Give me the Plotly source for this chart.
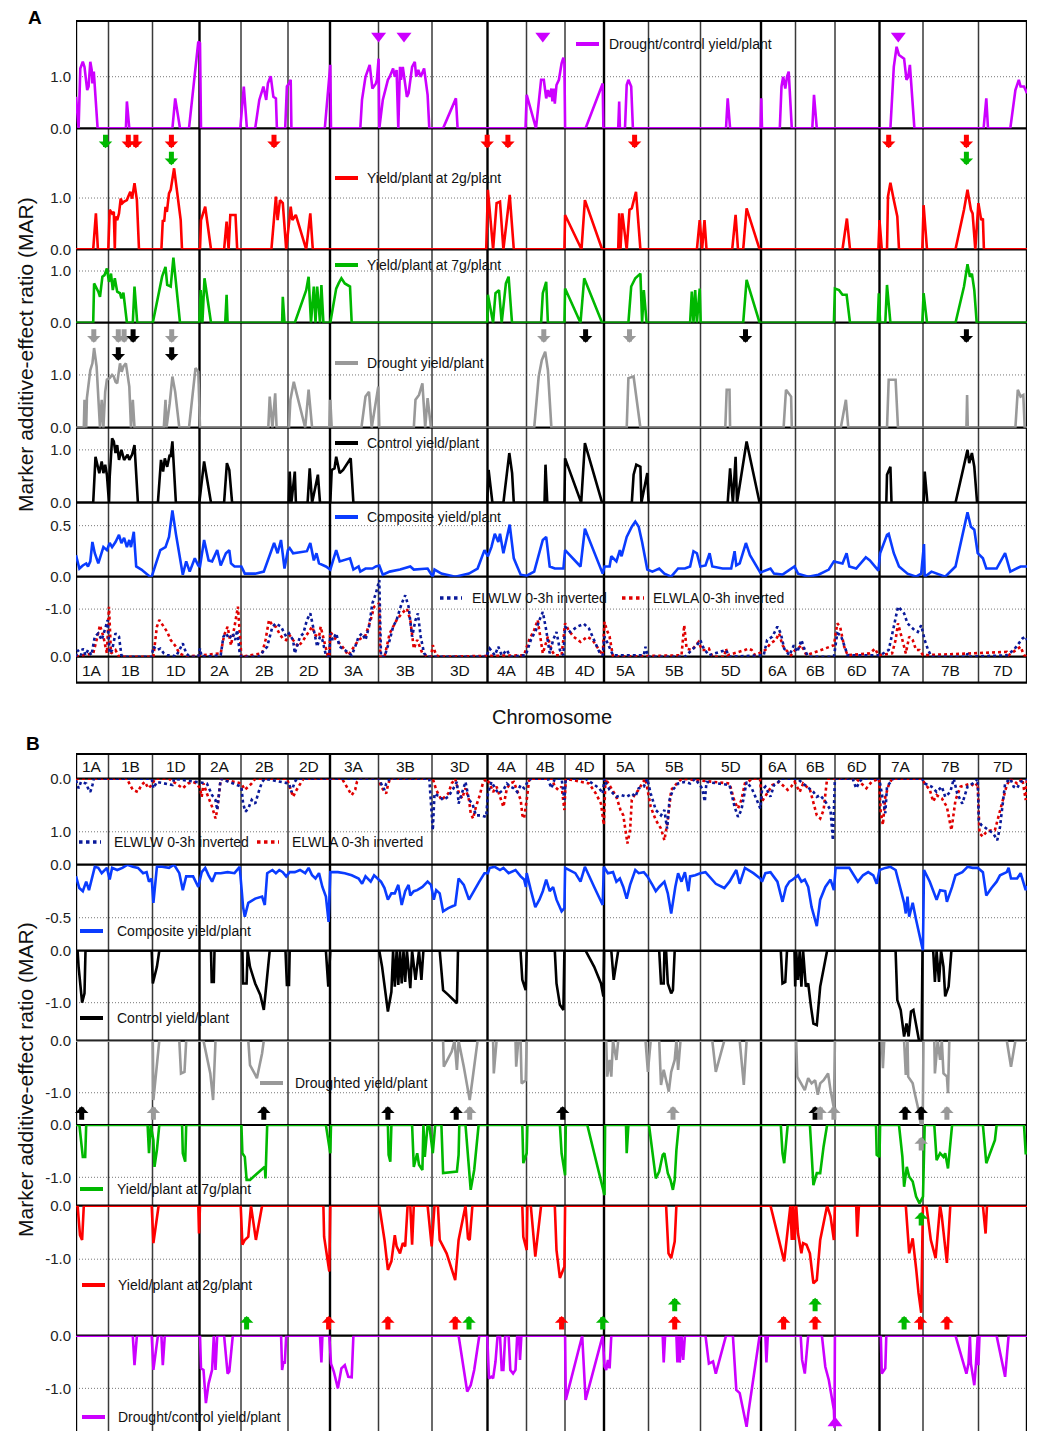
import plotly.graph_objects as go

# ---------------------------------------------------------------- data
CHROMOSOMES = ["1A", "1B", "1D", "2A", "2B", "2D", "3A", "3B", "3D", "4A", "4B",
               "4D", "5A", "5B", "5D", "6A", "6B", "6D", "7A", "7B", "7D"]
CHROM_LENGTH = [32.5, 44, 47, 41.5, 47, 42, 48.5, 53.5, 55.5, 39, 38.5,
                39, 44.5, 52, 60.5, 34.5, 39.5, 44.5, 43.5, 55.5, 48.5]

# Panel A (positive MAR) : (map position, MAR)
A_DROUGHT_CONTROL = [(0,0.61),(2.6,0),(4.3,1.16),(6.8,1.29),(8.5,1.19),(11.2,0.74),(12.6,0.81),(14.3,1.29),(15.7,1.13),(16.4,0.87),(17.8,1.10),(19.2,0.61),(21.6,0),(49.9,0),(50.9,0.52),(53.3,0),(96.4,0),(99.2,0.58),(101.6,0.29),(104,0),(113,0),(119.2,1.19),(122.3,1.68),(124,1.65),(125,0),(164.3,0),(167.8,0.81),(170.9,0),(179.2,0),(183.3,0.55),(187.4,0.81),(190.2,0.55),(191.9,0.87),(194.7,1.01),(197.4,0.61),(199.9,0.58),(200.9,0),(209.2,0),(210.9,0.81),(213,0.87),(214.7,0.94),(215.4,0),(248.8,0),(254.3,1.23),(255,0),(284.3,0),(286,0.55),(289.5,1.0),(293.7,1.23),(296.4,0.77),(299.9,0.87),(300.9,0.94),(302.6,1.35),(303.3,0),(306.8,0.55),(311.9,0.94),(313.7,1.0),(317.1,1.16),(318.8,1.0),(320.6,1.13),(322.3,0),(324,1.19),(325,0.94),(326.8,1.19),(330.9,0.61),(332.6,0.68),(336.1,1.19),(338.8,1.29),(340.2,1.0),(342.3,1.13),(344.7,1.0),(348.1,1.16),(351.6,0.65),(353.3,0),(367.1,0),(379.9,0.58),(381.6,0),(449.5,0),(450.7,0.65),(460,0),(465.1,0.94),(467.8,0.94),(470.2,0.58),(471.9,0.74),(473.7,0.61),(475.4,0.77),(476.4,0.52),(477.8,0.77),(478.8,0.48),(480.5,0.84),(482.9,0.94),(485.6,1.26),(487.4,1.37),(488.4,1.26),(489.1,0),(509.6,0),(526.7,0.87),(527.4,0),(542.2,0),(543.2,0.52),(543.9,0),(549,0),(550.7,0.84),(552.4,0.94),(555.2,0.81),(556.9,0),(650,0),(651.7,0.58),(654.1,0),(684.6,0),(685.3,0.58),(686,0),(703.8,0),(705.5,0.81),(707.2,1.0),(709.3,0.77),(711,1.0),(712.7,1.10),(715.8,0),(736.3,0),(738,0.65),(740.8,0),(814.4,0),(817.8,1.19),(820.6,1.58),(823,1.42),(828.1,1.35),(830.5,0.94),(832.2,1.0),(833.9,1.23),(838.4,0),(907.6,0),(910.3,0.58),(912,0),(934.3,0),(939.4,0.74),(942.8,0.94),(944.6,0.81),(948,0.81),(951,0.68)]

A_YIELD_2G = [(0,0),(17.2,0),(19.9,0.70),(21.9,0),(32.3,0),(33.7,0.77),(36.1,0.70),(37.8,0.73),(38.8,0),(39.5,0.64),(41.2,0.57),(43.0,0.70),(44.7,0.99),(46.4,0.90),(48.1,0.93),(50.9,0.96),(52.3,1.03),(54.3,1.12),(56.1,0.99),(58.5,1.29),(60.9,0.96),(63.0,0),(85.4,0),(86.8,0.57),(88.2,0.54),(89.5,0.83),(90.9,0.73),(93.0,1.09),(94.7,1.16),(98.1,1.58),(104.7,0.57),(106.0,0),(124.0,0),(125.0,0.57),(129.2,0.83),(135.0,0),(148.1,0),(150.6,0.54),(152.6,0),(154.3,0.67),(159.5,0.67),(161.2,0),(195.4,0),(199.9,1.03),(201.6,0.57),(204.0,0.96),(206.8,0.90),(210.2,0),(214.7,0.83),(216.4,0.57),(219.8,0.67),(230.2,0),(234.3,0.70),(236.8,0),(410.2,0),(411.9,1.16),(417.1,0),(420.6,0.90),(424.0,0.93),(427.4,0),(433.7,1.06),(437.8,0),(488.4,0),(489.1,0.67),(505.5,0),(508.9,0.96),(526.1,0),(542.2,0),(543.2,0.70),(544.5,0),(546.3,0.70),(550.7,0),(553.5,0.77),(555.8,0.80),(560.0,1.12),(564.4,0),(620.9,0),(623.7,0.57),(626.1,0),(628.5,0.57),(630.5,0),(656.2,0),(659.6,0.67),(662.0,0),(667.2,0),(670.6,0.80),(683.6,0),(766.5,0),(770.9,0.60),(774.0,0),(802.4,0),(803.5,0.57),(805.8,0),(811.0,0),(812.0,1.03),(814.4,1.30),(817.8,0.96),(821.3,0.64),(823.0,0),(846.3,0),(847.6,0.86),(851.0,0),(879.5,0),(888.0,0.77),(891.5,1.16),(894.9,0.77),(896.6,0.70),(899.3,0),(902.4,0.90),(905.2,0.57),(906.9,0.60),(907.9,0),(951,0)]

A_YIELD_7G = [(0,0),(17.2,0),(18.1,0.76),(22.3,0.60),(24.0,0.50),(26.4,0.89),(28.5,0.92),(30.9,1.05),(33.0,0.79),(35.0,0.95),(36.8,0.63),(38.8,0.86),(41.2,0.60),(44.0,0.57),(45.4,0.47),(47.4,0.58),(50.9,0),(56.8,0),(58.5,0.70),(61.2,0),(76.8,0),(86.1,0.89),(89.5,1.08),(91.2,0.73),(94.7,0.70),(97.4,1.26),(104.0,0),(123.3,0),(124.7,0.63),(126.4,0),(128.5,0.86),(135.0,0),(149.2,0),(150.6,0.54),(151.6,0),(206.1,0),(206.8,0.50),(208.5,0),(218.8,0),(230.2,0.63),(232.6,0.89),(235.0,0),(237.8,0.70),(239.5,0),(241.2,0.70),(244.0,0),(245.4,0.73),(247.4,0),(254.3,0),(260.2,0.66),(262.6,0.76),(265.4,0.86),(268.8,0.76),(274.0,0.70),(275.7,0),(411.2,0),(411.9,0.54),(417.1,0),(419.5,0.57),(423.0,0.63),(425.7,0),(429.9,0.76),(432.6,0.89),(436.0,0),(465.1,0),(466.8,0.57),(470.2,0.79),(471.9,0),(488.4,0),(489.1,0.66),(504.5,0),(508.2,0.86),(526.1,0),(552.4,0),(555.2,0.70),(559.3,0.86),(564.4,0.95),(566.1,0),(567.8,0.63),(570.6,0),(614.1,0),(615.8,0.60),(617.5,0),(619.2,0.63),(620.9,0),(623.7,0.66),(624.7,0),(667.2,0),(670.6,0.83),(683.6,0),(757.9,0),(758.9,0.66),(763.0,0.63),(766.5,0.54),(770.6,0.54),(774.0,0),(801.7,0),(802.8,0.57),(804.1,0),(809.3,0),(811.0,0.73),(814.4,0),(846.3,0),(847.6,0.57),(851.0,0),(879.5,0),(888.0,0.70),(891.5,1.13),(893.9,0.89),(895.9,0.95),(898.3,0.63),(900.7,0),(951,0)]

A_DROUGHT_YIELD = [(0,0),(7.8,0),(8.5,0.53),(10.2,0),(10.9,0.56),(14.3,1.09),(16.4,1.22),(18.1,1.51),(20.6,1.16),(24.0,0),(25.7,0.53),(27.4,0),(29.2,0.68),(30.9,0.91),(33.7,0.94),(36.1,1.0),(37.8,0.97),(39.5,0.87),(41.2,0.84),(44.0,1.22),(45.7,1.06),(47.4,1.16),(49.9,1.22),(53.3,0.78),(55.0,0),(56.8,0.53),(58.5,0),(87.8,0),(89.5,0.53),(90.5,0),(93.7,0.46),(96.4,0.97),(99.2,0.68),(103.3,0),(113.0,0),(117.8,0.91),(119.5,1.13),(122.3,1.06),(124.0,0),(192.3,0),(193.7,0.59),(196.4,0),(199.2,0.65),(200.6,0),(213.0,0),(214.4,0.53),(217.8,0.87),(220.6,0.65),(229.2,0),(232.6,0.72),(236.1,0),(253.3,0),(254.3,0.53),(255.7,0),(285.4,0),(289.5,0.59),(293.0,0.68),(295.7,0),(302.3,0.78),(303.3,0),(337.8,0),(339.5,0.53),(343.0,0.62),(346.4,0.84),(349.2,0),(351.6,0.56),(355.0,0),(458.2,0),(462.7,0.97),(465.8,1.28),(469.2,1.44),(471.9,1.09),(475.4,0),(550.7,0),(552.4,0.94),(557.6,0.97),(564.4,0),(649.3,0),(650.7,0.72),(653.5,0.72),(654.1,0),(707.6,0),(710.0,0.72),(715.1,0.59),(715.8,0),(764.8,0),(769.9,0.53),(772.3,0),(811.0,0),(812.7,0.91),(819.6,0.91),(822.0,0),(890.4,0),(891.1,0.62),(891.8,0),(939.4,0),(941.8,0.72),(944.6,0.59),(947.3,0.62),(948.7,0),(951,0)]

A_CONTROL_YIELD = [(0,0),(17.2,0),(19.5,0.87),(21.2,0.75),(23.3,0.56),(25.7,0.78),(27.4,0.56),(29.2,0.72),(30.9,0.53),(33.0,0),(33.7,0.49),(36.1,1.22),(37.8,1.16),(39.5,0.94),(41.2,1.09),(43.0,0.81),(45.4,1.0),(48.1,0.81),(51.6,0.91),(53.3,0.81),(56.1,0.91),(58.5,1.09),(61.9,0),(81.9,0),(85.0,0.81),(87.1,0.59),(88.8,0.84),(91.2,0.68),(93.7,0.91),(94.7,0.87),(96.4,1.16),(99.9,0),(123.3,0),(128.1,0.78),(135.0,0),(148.1,0),(150.9,0.75),(153.3,0.62),(156.1,0),(212.6,0),(213.7,0.59),(215.4,0),(218.8,0.59),(219.9,0),(231.6,0),(233.7,0.65),(236.1,0),(241.9,0.53),(244.0,0),(254.3,0),(255.7,0.62),(258.5,0.65),(260.2,0.87),(263.7,0.56),(267.1,0.62),(274.7,0.84),(277.4,0),(411.2,0),(412.6,0.62),(416.4,0),(427.4,0),(433.3,0.94),(436.1,0.56),(437.8,0),(468.5,0),(469.5,0.72),(471.3,0),(488.4,0),(489.1,0.84),(505.2,0),(508.9,1.13),(526.1,0),(555.8,0),(557.6,0.53),(560.3,0.72),(564.4,0.68),(565.4,0),(571.3,0.56),(572.6,0),(651.7,0),(654.1,0.65),(656.9,0),(659.6,0.87),(661.0,0),(670.6,1.16),(683.6,0),(810.3,0),(811.0,0.53),(814.4,0.68),(815.5,0),(847.6,0),(848.7,0.59),(851.4,0),(879.5,0),(888.0,0.75),(891.5,1.0),(893.2,0.75),(895.9,0.94),(898.3,0.68),(901.1,0),(951,0)]

A_COMPOSITE = [(0,0.21),(3.4,0.08),(6.8,0.11),(10.2,0.13),(12.0,0.10),(14.3,0.15),(16.4,0.34),(18.8,0.23),(22.3,0.13),(24.7,0.21),(27.4,0.29),(30.9,0.26),(33.7,0.33),(36.1,0.29),(39.5,0.34),(43.0,0.41),(45.4,0.33),(48.1,0.38),(50.9,0.29),(53.3,0.36),(55.0,0.29),(57.8,0.44),(60.2,0.10),(65.4,0.07),(74.0,0.0),(75.7,0.0),(84.3,0.26),(89.5,0.29),(93.0,0.39),(96.4,0.65),(99.9,0.42),(106.8,0.02),(110.2,0.15),(113.7,0.05),(118.8,0.18),(122.3,0.11),(124.0,0.10),(128.1,0.36),(132.6,0.16),(136.1,0.15),(141.2,0.26),(144.7,0.11),(149.9,0.23),(153.3,0.26),(155.0,0.13),(158.5,0.10),(165.4,0.10),(168.8,0.03),(179.2,0.03),(187.8,0.05),(194.7,0.23),(198.1,0.33),(201.6,0.23),(205.0,0.36),(208.5,0.08),(211.9,0.26),(213.7,0.28),(217.1,0.23),(230.9,0.25),(234.3,0.33),(237.8,0.16),(240.5,0.23),(243.0,0.13),(249.9,0.10),(254.3,0.07),(256.8,0.16),(260.2,0.26),(263.7,0.15),(274.0,0.18),(277.4,0.07),(282.6,0.10),(284.3,0.05),(289.5,0.08),(296.4,0.08),(299.9,0.10),(303.3,0.11),(306.8,0.02),(313.7,0.05),(324.0,0.07),(334.3,0.10),(337.8,0.07),(351.6,0.08),(356.8,0.0),(358.5,0.07),(365.4,0.03),(379.2,0.0),(393.0,0.03),(401.6,0.08),(408.5,0.26),(411.9,0.20),(415.4,0.29),(418.8,0.42),(422.3,0.34),(424.0,0.42),(427.4,0.23),(433.7,0.51),(437.8,0.18),(441.2,0.10),(444.7,0.02),(450.7,0.01),(458.2,0.05),(466.8,0.36),(470.2,0.39),(473.7,0.10),(478.8,0.08),(487.4,0.08),(489.1,0.26),(504.5,0.10),(508.9,0.47),(526.7,0.03),(528.5,0.10),(533.6,0.10),(535.3,0.20),(540.4,0.15),(543.9,0.26),(545.6,0.20),(550.7,0.39),(555.8,0.49),(559.3,0.54),(562.7,0.49),(566.1,0.34),(571.3,0.07),(576.4,0.05),(583.2,0.08),(588.4,0.03),(595.2,0.0),(602.1,0.08),(608.9,0.08),(614.1,0.10),(617.5,0.25),(620.9,0.23),(624.3,0.10),(629.5,0.11),(633.6,0.23),(636.3,0.10),(646.6,0.08),(655.2,0.08),(658.6,0.25),(660.3,0.11),(663.7,0.13),(669.9,0.33),(674.0,0.21),(684.3,0.04),(694.5,0.08),(698.0,0.03),(706.5,0.02),(718.5,0.10),(722.0,0.03),(732.2,0.0),(742.5,0.02),(752.8,0.07),(757.9,0.15),(766.5,0.13),(770.6,0.23),(773.3,0.10),(780.2,0.08),(789.8,0.19),(793.9,0.16),(802.4,0.06),(804.1,0.23),(811.0,0.41),(812.7,0.42),(817.8,0.23),(823.0,0.10),(831.5,0.03),(840.1,0.0),(845.2,0.03),(848.0,0.32),(848.7,0.0),(855.5,0.05),(869.2,0.0),(879.5,0.10),(891.5,0.63),(894.9,0.49),(898.3,0.46),(901.7,0.23),(906.9,0.18),(910.3,0.08),(920.6,0.08),(929.1,0.23),(934.3,0.05),(944.6,0.10),(951.0,0.10)]

A_ELWLW = [(0,0),(1.6,-0.14),(5.0,-0.03),(6.8,-0.17),(9.5,-0.03),(12.0,-0.14),(15.4,-0.03),(18.8,-0.42),(22.3,-0.49),(25.7,-0.35),(29.2,-0.59),(31.6,-0.77),(33.7,-0.07),(36.1,-0.14),(39.5,-0.49),(43.0,-0.42),(45.4,-0.03),(48.1,0),(75.7,0),(77.4,-0.21),(80.9,-0.14),(84.3,-0.17),(87.8,-0.07),(91.2,-0.03),(96.4,-0.03),(99.9,0),(106.8,-0.28),(110.2,-0.07),(113.7,0),(122.3,0),(124.0,-0.17),(125.7,0),(144.7,-0.03),(147.4,-0.42),(149.9,-0.49),(153.3,-0.38),(156.8,-0.49),(159.2,-0.35),(161.2,-0.56),(163.7,-0.07),(165.4,0),(182.6,0),(191.2,-0.21),(196.4,-0.63),(199.9,-0.70),(205.0,-0.63),(210.2,-0.42),(213.0,-0.49),(217.1,-0.35),(218.8,-0.07),(224.0,-0.42),(227.4,-0.49),(230.9,-0.77),(234.3,-0.91),(237.8,-0.56),(241.2,-0.21),(244.0,-0.42),(246.4,-0.35),(249.9,-0.03),(253.3,0),(254.3,-0.49),(256.8,-0.35),(260.2,-0.49),(263.7,-0.21),(268.8,-0.14),(275.7,-0.03),(279.2,-0.21),(282.6,-0.42),(286.1,-0.49),(289.5,-0.35),(293.0,-0.63),(296.4,-1.12),(299.9,-1.33),(303.3,-1.61),(305.0,0),(308.5,0),(313.7,-0.35),(317.1,-0.63),(320.6,-0.77),(325.7,-1.12),(329.2,-1.29),(332.6,-1.05),(336.1,-0.42),(339.5,-0.77),(341.9,-0.91),(344.7,-0.42),(348.1,-0.07),(351.6,0),(410.2,0),(413.7,-0.17),(418.8,-0.03),(422.3,-0.21),(425.7,-0.03),(430.9,-0.14),(434.3,0),(449.7,-0.03),(454.8,-0.35),(460.0,-0.56),(463.4,-0.77),(466.8,-0.94),(470.2,-0.56),(473.7,-0.07),(477.1,-0.35),(480.5,-0.52),(483.9,-0.14),(487.4,-0.03),(489.1,-0.63),(494.2,-0.52),(501.1,-0.63),(507.9,-0.69),(513.0,-0.59),(518.2,-0.35),(523.3,-0.10),(526.7,-0.03),(528.5,-0.42),(530.2,-0.35),(533.6,-0.17),(537.0,-0.03),(567.8,-0.03),(569.5,-0.21),(571.9,0),(608.9,0),(615.8,-0.14),(620.9,-0.24),(624.3,-0.35),(627.8,-0.17),(632.9,-0.03),(650.0,-0.14),(653.5,0),(687.7,-0.03),(691.1,-0.35),(696.3,-0.42),(701.4,-0.63),(704.8,-0.49),(708.2,-0.17),(713.4,-0.03),(717.8,-0.24),(721.3,-0.10),(725.4,-0.35),(728.8,-0.14),(732.2,0),(757.9,0),(761.3,-0.49),(764.8,-0.45),(768.2,-0.24),(771.6,-0.03),(804.1,-0.03),(812.7,-0.14),(817.8,-0.63),(822.0,-1.05),(825.4,-0.98),(828.1,-0.91),(831.5,-0.70),(835.0,-0.63),(838.4,-0.56),(841.8,-0.52),(845.2,-0.66),(848.7,-0.35),(852.1,-0.14),(855.5,0),(890.4,0),(891.5,-0.07),(893.2,0),(930.8,-0.03),(937.7,-0.14),(942.8,-0.28),(946.3,-0.38),(949.7,-0.42),(951,-0.35)]

A_ELWLA = [(0,0),(17.2,-0.07),(20.6,-0.35),(24.0,-0.66),(27.4,-0.42),(30.9,-0.07),(33.0,-1.05),(35.0,-0.07),(39.5,-0.14),(43.0,0),(77.4,0),(80.9,-0.63),(83.3,-0.77),(87.8,-0.63),(91.2,-0.52),(94.7,-0.35),(99.9,-0.21),(103.3,-0.07),(110.2,0),(144.7,-0.07),(148.1,-0.45),(151.6,-0.63),(155.0,-0.24),(158.5,-0.63),(161.9,-1.05),(165.4,0),(186.1,-0.07),(189.5,-0.35),(193.0,-0.77),(196.4,-0.66),(199.9,-0.63),(203.3,-0.49),(206.8,-0.38),(210.2,-0.35),(213.7,-0.45),(217.1,-0.35),(222.3,-0.21),(227.4,-0.35),(232.6,-0.52),(236.1,-0.63),(239.5,-0.45),(243.0,-0.42),(244.7,-0.63),(248.1,-0.35),(251.6,-0.03),(253.3,0),(254.3,-0.52),(260.2,-0.35),(265.4,-0.24),(268.8,-0.14),(272.3,-0.03),(282.6,-0.35),(289.5,-0.45),(294.7,-0.77),(298.1,-1.05),(303.3,-1.12),(304.3,0),(308.5,0),(313.7,-0.49),(320.6,-0.77),(325.7,-0.91),(330.9,-1.01),(334.3,-0.77),(337.8,-0.17),(341.2,-0.35),(346.4,-0.07),(351.6,0),(355.0,0),(356.8,-0.24),(360.2,-0.03),(363.7,0),(448.0,-0.03),(453.1,-0.35),(458.2,-0.56),(461.7,-0.77),(466.8,-0.07),(471.9,-0.42),(475.4,-0.14),(478.8,-0.03),(485.6,-0.03),(489.1,-0.70),(492.5,-0.56),(497.6,-0.42),(504.5,-0.31),(511.3,-0.42),(516.5,-0.35),(523.3,-0.14),(526.7,-0.03),(528.5,-0.73),(530.8,-0.56),(533.6,-0.42),(537.0,0),(605.5,-0.03),(608.2,-0.66),(610.6,-0.17),(615.8,-0.14),(622.6,-0.31),(626.1,-0.14),(629.5,-0.14),(632.9,-0.17),(636.3,0),(648.3,0),(650.0,-0.17),(651.7,-0.03),(668.9,-0.14),(672.3,-0.17),(675.7,-0.14),(679.1,-0.03),(689.4,-0.14),(694.5,-0.28),(699.7,-0.35),(703.1,-0.49),(706.5,-0.24),(710.0,-0.14),(715.1,-0.03),(719.2,-0.14),(722.0,-0.17),(725.4,-0.24),(730.5,-0.03),(757.9,-0.24),(761.3,-0.70),(764.1,-0.63),(768.2,-0.21),(771.6,-0.03),(793.9,-0.07),(799.0,-0.17),(802.4,-0.03),(816.1,-0.07),(819.6,-0.35),(822.0,-0.70),(826.4,-0.35),(829.8,-0.07),(833.2,-0.42),(836.7,-0.35),(840.1,-0.14),(843.5,-0.14),(847.0,-0.03),(930.8,-0.10),(932.6,-0.03),(944.6,-0.21),(948.0,-0.03),(951,0)]

# Panel B (negative MAR)
B_ELWLW = [(0,0.03),(2.6,0.18),(5.0,0.06),(10.2,0.09),(12.0,0.18),(14.3,0.25),(16.4,0.12),(17.8,0),(75.7,0),(77.4,0.18),(80.9,0.06),(96.4,0.12),(98.1,0),(124.0,0.06),(130.9,0.09),(136.1,0.31),(139.5,0.40),(141.2,0.59),(144.7,0),(165.4,0.15),(167.1,0.47),(169.5,0.62),(172.3,0.56),(175.7,0.40),(179.2,0.47),(183.3,0.21),(186.1,0.06),(188.8,0),(213.0,0.09),(215.4,0.25),(218.8,0.06),(221,0),(303,0),(305.0,0.09),(308.5,0.21),(310.2,0.09),(313.7,0),(353.3,0),(355.0,0.40),(356.8,0.97),(358.5,0.28),(363.7,0.34),(367.1,0.40),(372.3,0.34),(377.5,0.18),(380.9,0.06),(382.6,0.47),(386.1,0.25),(389.5,0.06),(393.0,0.40),(396.4,0.47),(399.9,0.69),(405.0,0.69),(410.2,0.72),(411.9,0.28),(415.4,0.06),(417.1,0.12),(422.3,0.28),(427.4,0.21),(430.9,0.09),(434.3,0.15),(437.8,0.18),(441.2,0.25),(444.7,0.12),(448.1,0.18),(451.6,0.06),(455,0),(471.9,0),(475.4,0.18),(478.8,0),(485.6,0),(488.4,0.40),(489.8,0),(509.6,0),(516.5,0.09),(523.3,0.18),(526.7,0.28),(528.5,0),(530.2,0.09),(533.6,0.21),(540.4,0.34),(545.6,0.31),(550.7,0.34),(555.8,0.28),(559.3,0.34),(562.7,0.18),(567.8,0.15),(571.3,0),(574.7,0.28),(579.8,0.59),(585.0,0.69),(588.4,0.59),(591.1,0.94),(593.5,0.40),(596.9,0.21),(602.1,0.09),(608.9,0.06),(614.1,0.09),(619.2,0),(626.1,0.18),(628.8,0.43),(630.5,0.06),(653.5,0.12),(658.6,0.53),(662.0,0.72),(665.4,0.59),(670.6,0.06),(675.7,0.18),(680.8,0.40),(684.3,0.56),(686.0,0.21),(689.4,0.15),(694.5,0.34),(698.0,0.12),(701.4,0.09),(704.8,0),(721.3,0),(732.2,0.18),(737.4,0.25),(740.8,0.34),(744.2,0.31),(749.3,0.43),(754.5,0.59),(756.9,1.16),(758.9,0),(776.7,0),(780.2,0.18),(783.6,0.06),(786,0),(802,0),(804.1,0.09),(806.9,0.40),(809.3,0.65),(811.0,0.15),(814.4,0.06),(817,0),(846,0),(848.7,0.09),(855.5,0.15),(860.6,0.25),(865.8,0.15),(869.2,0.34),(874.3,0.25),(877.8,0),(881.2,0.28),(886.3,0.47),(891.5,0.15),(896.6,0.09),(901.7,0),(902.8,0.78),(905.2,0.87),(910.3,0.94),(917.2,1.03),(921.3,1.16),(924.0,0.91),(929.1,0.09),(934.3,0),(937.7,0.15),(941.1,0.18),(944.6,0.06),(951,0)]

B_ELWLA = [(0,0),(51,0),(53.3,0.09),(56.8,0.21),(61.9,0.25),(65.4,0.12),(68.8,0.06),(72.3,0.18),(75.7,0.12),(79.1,0),(92.9,0),(106.8,0.18),(112.0,0.09),(117.1,0.06),(120.6,0.09),(124.0,0.18),(125.7,0.34),(127.5,0.09),(130.9,0.28),(136.1,0.53),(139.5,0.75),(141.2,0.59),(144.7,0),(165.4,0.09),(168.8,0.21),(172.3,0.15),(175.7,0.09),(179.2,0),(211,0),(213.7,0.15),(217.1,0.34),(220.6,0.21),(224.0,0.09),(227.4,0),(266,0),(268.8,0.09),(272.3,0.21),(275.7,0.31),(279.2,0.21),(280.9,0.06),(283,0),(303,0),(305.0,0.15),(308.5,0.25),(310.2,0.28),(311.9,0.12),(314,0),(356.8,0),(360.2,0.21),(365.4,0.40),(372.3,0.28),(375.7,0.09),(379.2,0),(382.6,0.25),(386.1,0.37),(389.5,0.18),(393.0,0.40),(394.7,0.65),(397.1,0.75),(399.9,0.53),(403.3,0.34),(406.8,0.09),(410.2,0),(413.7,0.09),(417.1,0.25),(420.6,0.15),(424.0,0.34),(427.4,0.53),(430.9,0.18),(434.3,0.09),(437.8,0.06),(441.2,0.21),(444.7,0.40),(446.4,0.69),(448.1,0.75),(450.9,0.37),(453.3,0),(476,0),(478.8,0.15),(482.2,0.21),(485.6,0.15),(488.4,0.59),(489.8,0),(513.0,0.09),(519.9,0.28),(525.0,0.47),(527.8,0.87),(529.5,0),(540.4,0.34),(544.5,0.59),(547.3,0.69),(549.0,0.91),(551.4,1.22),(554.1,0.97),(555.8,0.40),(559.3,0.28),(562.7,0.21),(566.1,0.09),(569.5,0),(574.7,0.53),(579.8,0.78),(585.0,0.94),(588.4,1.16),(591.8,0.78),(595.2,0.21),(602.1,0.06),(606,0),(653.5,0.09),(658.6,0.43),(662.0,0.56),(665.4,0.40),(668.9,0.09),(672.3,0.06),(676,0),(684,0),(686.0,0.43),(691.1,0.28),(696.3,0.12),(703.1,0.06),(711.7,0.21),(715.1,0.15),(718.5,0.06),(723.7,0.25),(727.1,0.09),(734.0,0.21),(737.4,0.47),(740.8,0.69),(744.2,0.75),(747.6,0.59),(751.1,0),(780.2,0),(787.0,0.12),(790.4,0.18),(795.6,0.06),(803,0),(804.8,0.65),(806.9,0.87),(809.3,0.34),(812.7,0.12),(816.1,0),(846,0),(848.7,0.09),(853.8,0.21),(857.2,0.43),(860.6,0.31),(865.8,0.37),(870.9,0.53),(875.4,0.97),(879.5,0.40),(884.6,0.15),(889.8,0.12),(894.9,0.09),(898.3,0.15),(901.7,0.09),(903.5,1.03),(906.9,1.09),(910.3,1.0),(915.5,0.97),(918.9,0.97),(924.0,0.59),(927.4,0.34),(930.8,0.12),(934.3,0),(941.1,0.09),(946.3,0),(949.7,0.40),(951,0)]

B_COMPOSITE = [(0,-0.11),(3.3,-0.22),(6.8,-0.25),(10.2,-0.16),(13.0,-0.24),(15.4,-0.14),(18.8,-0.02),(22.3,-0.03),(25.7,-0.08),(30.9,-0.03),(33.7,-0.14),(36.1,-0.03),(41.2,-0.05),(46.4,-0.03),(51.6,0.0),(56.8,-0.02),(62.0,-0.03),(67.1,-0.08),(70.6,-0.07),(73.0,-0.16),(75.7,-0.13),(77.4,-0.36),(80.9,-0.02),(86.1,-0.02),(93.0,-0.03),(98.1,0.0),(103.3,-0.08),(106.8,-0.24),(110.2,-0.11),(117.1,-0.11),(122.3,-0.21),(125.7,-0.07),(129.2,-0.03),(132.6,-0.10),(136.1,-0.16),(139.5,-0.08),(144.7,-0.08),(151.6,-0.07),(158.5,-0.08),(163.7,-0.02),(167.1,-0.40),(168.8,-0.49),(172.3,-0.36),(179.2,-0.32),(186.1,-0.30),(188.8,-0.38),(191.2,-0.08),(196.4,-0.05),(199.9,-0.08),(203.3,-0.05),(206.8,-0.07),(210.2,-0.11),(213.7,-0.07),(218.8,-0.07),(224.0,-0.05),(229.2,-0.08),(232.6,-0.03),(236.1,-0.10),(239.5,-0.13),(243.0,-0.08),(246.4,-0.21),(249.9,-0.30),(252.6,-0.54),(254.3,-0.07),(261.9,-0.07),(268.8,-0.08),(275.7,-0.10),(282.6,-0.13),(286.1,-0.18),(289.5,-0.11),(294.7,-0.16),(298.1,-0.10),(301.6,-0.13),(305.0,-0.16),(308.5,-0.22),(311.9,-0.33),(315.4,-0.27),(318.8,-0.27),(322.3,-0.19),(325.7,-0.38),(329.2,-0.25),(332.6,-0.19),(334.3,-0.29),(337.8,-0.25),(341.2,-0.24),(346.4,-0.21),(351.6,-0.16),(355.0,-0.19),(357.8,-0.33),(360.2,-0.24),(363.7,-0.27),(367.1,-0.44),(372.3,-0.41),(379.2,-0.38),(382.6,-0.13),(387.8,-0.19),(393.0,-0.33),(398.2,-0.24),(403.3,-0.16),(408.5,-0.08),(411.9,-0.08),(413.7,-0.03),(418.8,-0.02),(424.0,-0.05),(427.4,-0.03),(432.6,-0.08),(439.5,-0.05),(444.7,-0.11),(448.1,-0.14),(449.9,-0.21),(450.7,-0.08),(454.8,-0.24),(459.3,-0.40),(463.4,-0.33),(466.8,-0.25),(470.2,-0.14),(473.7,-0.25),(477.1,-0.21),(480.5,-0.33),(485.6,-0.44),(488.4,-0.41),(489.1,-0.03),(499.3,-0.08),(504.5,-0.16),(508.9,-0.02),(518.2,-0.21),(526.7,-0.38),(527.8,-0.02),(531.9,-0.08),(537.0,-0.07),(540.4,-0.16),(543.9,-0.13),(547.3,-0.21),(550.7,-0.32),(554.1,-0.19),(559.3,-0.05),(562.7,-0.08),(567.8,-0.07),(571.3,-0.11),(576.4,-0.19),(579.8,-0.25),(583.2,-0.21),(588.4,-0.16),(591.8,-0.27),(595.2,-0.46),(599.3,-0.21),(602.1,-0.08),(605.5,-0.16),(608.9,-0.07),(612.4,-0.25),(614.1,-0.11),(619.2,-0.10),(624.3,-0.08),(629.5,-0.07),(634.6,-0.13),(639.8,-0.18),(648.3,-0.22),(653.5,-0.16),(660.3,-0.05),(663.7,-0.18),(668.9,-0.03),(677.4,-0.08),(684.3,-0.13),(686.0,-0.16),(689.4,-0.08),(694.5,-0.07),(701.4,-0.16),(706.5,-0.35),(710.0,-0.21),(713.4,-0.16),(716.8,-0.14),(722.0,-0.10),(725.4,-0.16),(728.8,-0.14),(732.2,-0.21),(735.6,-0.40),(739.1,-0.52),(740.8,-0.58),(744.2,-0.33),(749.3,-0.21),(754.5,-0.14),(757.9,-0.24),(759.6,-0.03),(766.5,-0.03),(773.3,-0.03),(781.9,-0.16),(787.0,-0.10),(792.2,-0.07),(797.3,-0.10),(800.7,-0.18),(803.5,-0.05),(809.3,-0.03),(814.4,-0.02),(819.6,-0.05),(824.7,-0.24),(828.1,-0.36),(829.8,-0.46),(831.5,-0.30),(833.2,-0.49),(836.7,-0.36),(840.1,-0.52),(843.5,-0.66),(846.9,-0.81),(848.0,-0.05),(853.8,-0.16),(860.6,-0.33),(864.1,-0.24),(869.2,-0.25),(870.9,-0.35),(876.1,-0.21),(879.5,-0.10),(886.3,-0.07),(891.5,-0.02),(896.6,-0.03),(901.7,-0.03),(906.9,-0.07),(910.3,-0.29),(915.5,-0.22),(920.6,-0.16),(924.0,-0.10),(930.8,-0.07),(932.6,-0.03),(935.0,-0.13),(941.1,-0.13),(944.6,-0.08),(949.7,-0.24),(951,-0.20)]

B_CONTROL_YIELD = [(0,0),(1.6,0),(2.6,-0.31),(5.0,-0.82),(6.1,-1.0),(8.5,-0.82),(9.5,0),(75.7,0),(76.8,-0.63),(80.9,-0.31),(83.3,0),(135.0,0),(135.7,-0.60),(137.8,-0.60),(138.5,0),(166.4,0),(167.1,-0.63),(170.6,-0.63),(171.6,0),(174.0,-0.31),(179.2,-0.63),(184.3,-0.85),(187.8,-1.14),(189.5,-0.82),(193.7,0),(209.5,0),(210.9,-0.66),(213.0,-0.66),(213.7,0),(249.9,0),(252.3,-0.69),(254.3,0),(303.3,0),(306.1,-0.31),(309.5,-0.76),(311.9,-1.17),(315.4,-0.79),(317.1,0),(318.8,-0.69),(320.6,0),(322.3,-0.66),(324.0,0),(325.7,-0.63),(327.5,0),(329.2,-0.60),(330.9,0),(334.3,-0.72),(336.1,0),(339.5,-0.56),(343.0,0),(345.4,-0.56),(347.4,0),(363.7,0),(367.1,-0.76),(372.3,-0.85),(379.2,-0.98),(380.9,-1.01),(382.0,0),(444.5,0),(446.3,-0.56),(449.7,-0.76),(450.7,0),(478.8,0),(480.5,-0.63),(483.9,-1.04),(487.4,-1.14),(488.4,0),(509.6,0),(518.2,-0.31),(525.0,-0.63),(527.4,-0.88),(528.1,0),(535.3,0),(537.7,-0.56),(542.2,0),(583.2,0),(585.0,-0.63),(587.7,-0.63),(588.4,0),(590.1,0),(591.8,-0.63),(595.2,-0.82),(596.9,-0.76),(598.7,0),(704.8,0),(706.5,-0.63),(709.3,-0.60),(711.0,0),(718.5,0),(719.2,-0.69),(720.2,0),(722.0,-0.56),(723.7,0),(725.4,-0.69),(727.1,0),(729.8,-0.69),(732.2,-0.63),(735.0,-1.08),(737.4,-1.40),(740.8,-1.43),(744.2,-0.69),(751.1,0),(819.6,0),(821.3,-0.95),(824.7,-1.14),(828.1,-1.65),(830.5,-1.40),(832.6,-1.65),(835.0,-1.17),(837.4,-1.14),(839.4,-1.37),(841.8,-1.69),(843.5,-1.78),(845.5,-2.0),(846.5,0),(857.2,0),(858.9,-0.60),(860.6,0),(863.0,-0.60),(865.1,0),(867.5,-0.31),(869.2,-0.88),(872.6,-0.69),(875.4,0),(951,0)]

B_DROUGHT_YIELD = [(0,0),(76.8,0),(77.4,-1.14),(80.9,-0.50),(83.3,0),(103.3,0),(105.0,-0.63),(108.5,-0.60),(110.2,0),(127.5,0),(130.9,-0.31),(134.3,-0.63),(137.1,-1.14),(139.5,0),(172.3,0),(174.0,-0.47),(178.5,-0.63),(180.9,-0.72),(186.1,-0.24),(187.8,0),(367.1,0),(367.8,-0.50),(375.7,-0.21),(378.5,0),(380.9,-0.56),(382.6,0),(387.8,-0.50),(393.7,-1.14),(396.4,-0.76),(401.6,0),(417.1,0),(417.8,-0.63),(420.6,0),(439.5,0),(440.2,-0.50),(442.3,0),(444.6,0),(445.6,-0.82),(449.7,-0.76),(450.7,0),(530.2,0),(531.2,-0.69),(533.6,-0.37),(535.3,-0.69),(537.0,0),(540.4,-0.37),(542.2,0),(569.5,0),(571.9,-0.60),(574.7,0),(583.2,0),(585.0,-0.85),(587.7,-0.56),(590.1,-0.76),(592.8,-0.98),(595.2,-0.60),(598.7,-0.37),(600.4,0),(602.1,-0.56),(604.5,0),(636.3,0),(639.8,-0.60),(648.3,0),(663.7,0),(667.8,-0.85),(670.6,0),(720.2,0),(721.3,-0.69),(725.4,-0.82),(728.8,-0.95),(732.2,-0.72),(735.6,-0.82),(739.1,-0.76),(741.8,-1.04),(744.2,-0.82),(747.6,-0.76),(752.1,-0.63),(754.5,-0.95),(757.9,-1.30),(758.9,0),(805.8,0),(806.9,-0.53),(808.2,0),(828.1,0),(829.8,-0.66),(831.5,0),(832.2,-0.69),(836.7,-0.82),(838.4,-0.98),(841.8,-1.27),(845.2,-1.65),(846.5,-2.0),(847.5,0),(858.3,0),(858.9,-0.63),(861.7,0),(864.1,-0.37),(865.8,0),(867.5,-0.63),(870.9,-0.69),(872.0,-1.01),(873.3,0),(930.8,0),(935.0,-0.50),(939.4,0),(951,0)]

B_YIELD_7G = [(0,0),(3.4,0),(5.0,-0.29),(6.8,-0.61),(9.2,-0.61),(10.2,0),(71.6,0),(73.0,-0.54),(74.7,0),(77.4,-0.29),(78.5,-0.80),(80.9,-0.48),(83.3,0),(106.1,0),(106.8,-0.54),(109.2,-0.70),(110.2,0),(165.4,0),(166.4,-0.54),(168.8,-0.61),(170.6,-1.05),(174.0,-1.05),(177.5,-0.99),(188.8,-0.80),(189.5,-1.02),(191.2,0),(249.9,0),(254.3,-0.54),(255.0,0),(311.9,0),(312.6,-0.57),(314.3,-0.70),(315.4,0),(336.1,0),(337.8,-0.80),(341.2,-0.54),(343.0,-0.76),(346.4,-0.86),(347.4,0),(348.8,-0.61),(351.6,0),(353.3,0),(356.8,-0.54),(359.2,0),(365.4,0),(367.1,-0.92),(380.9,-0.89),(382.6,-0.57),(383.3,0),(389.5,0),(394.7,-1.24),(398.2,-0.86),(402.6,0),(446.3,0),(447.3,-0.73),(450.7,-0.54),(451.4,0),(483.9,0),(485.6,-0.54),(489.1,-0.96),(489.8,0),(511.3,0),(518.2,-0.54),(528.5,-1.34),(529.1,0),(550.0,0),(550.7,-0.54),(552.4,0),(573.0,0),(576.4,-0.54),(579.8,-1.02),(583.2,-0.89),(586.7,-0.57),(588.4,-0.54),(591.8,-0.92),(594.5,-1.05),(596.9,-1.24),(598.7,-1.05),(600.4,-0.48),(602.8,0),(704.8,0),(706.5,-0.54),(708.2,-0.73),(711.7,0),(733.9,0),(735.6,-0.54),(737.4,-1.15),(740.8,-0.92),(744.2,-0.92),(747.6,-0.41),(751.1,0),(800.0,0),(800.7,-0.57),(803.5,-0.61),(804.1,0),(823.0,0),(826.4,-0.61),(828.1,-1.18),(830.8,-0.80),(833.2,-0.99),(836.7,-1.08),(840.1,-1.37),(843.5,-1.50),(847.0,-1.37),(848.7,0),(858.3,0),(860.6,-0.67),(864.1,-0.54),(867.5,-0.61),(869.2,-0.54),(872.0,-0.83),(876.1,0),(906.9,0),(910.3,-0.73),(918.9,-0.29),(920.6,0),(948.0,0),(949.7,-0.54),(951,-0.54)]

B_YIELD_2G = [(0,0),(1.6,0),(4.0,-0.55),(6.1,-0.64),(7.8,0),(75.7,0),(77.4,-0.70),(82.6,0),(122.3,0),(123.0,-0.52),(124.0,0),(164.7,0),(166.4,-0.73),(168.8,-0.64),(172.3,-0.58),(175.0,0),(179.9,-0.64),(186.1,0),(247.4,0),(248.1,-0.58),(253.3,-1.23),(254.3,0),(303.3,0),(308.5,-0.64),(311.9,-1.20),(315.4,-1.04),(318.8,-0.55),(320.6,-0.76),(324.0,-0.89),(326.8,-0.70),(329.2,-0.76),(331.6,0),(334.3,0),(336.1,-0.73),(337.8,0),(351.6,0),(355.7,-0.76),(358.5,0),(361.9,0),(363.7,-0.64),(370.6,-0.89),(379.2,-1.39),(382.6,-0.64),(389.5,0),(392.0,-0.61),(393.7,-0.64),(396.4,0),(446.3,0),(447.3,-0.58),(450.7,-0.83),(451.4,0),(454.8,0),(459.3,-0.95),(465.1,0),(478.8,0),(480.5,-0.83),(483.9,-1.35),(488.4,-1.14),(489.1,0),(590.1,0),(592.5,-0.89),(595.2,-0.98),(598.7,-0.67),(600.4,0),(694.5,0),(699.7,-0.39),(704.8,-0.76),(708.2,-1.04),(711.7,-0.45),(714.4,0),(715.8,-0.64),(717.2,0),(718.5,-0.64),(720.2,0),(722.0,-0.52),(725.4,-0.89),(727.1,-0.70),(730.5,-0.73),(733.9,-0.89),(737.4,-1.45),(740.8,-1.39),(744.2,-0.64),(751.1,0),(754.5,-0.20),(757.9,-0.64),(758.9,0),(780.2,0),(781.2,-0.58),(782.9,0),(829.8,0),(833.2,-0.89),(836.7,-0.61),(840.1,-1.17),(842.5,-1.63),(845.2,-2.0),(846.9,0),(850.4,0),(854.8,-0.64),(859.6,-0.98),(864.1,0),(865.8,-0.20),(870.9,-1.07),(874.3,0),(906.9,0),(909.6,-0.52),(911.0,0),(951,0)]

B_DROUGHT_CONTROL = [(0,0),(56.8,0),(58.5,-0.56),(60.9,0),(75.7,0),(77.4,-0.65),(81.9,0),(85.4,0),(86.8,-0.56),(88.8,0),(124.0,0),(125.0,-0.62),(127.5,-0.65),(129.9,-1.28),(132.6,-0.91),(136.1,-0.65),(137.8,0),(139.5,-0.65),(141.2,0),(148.1,0),(151.6,-0.72),(153.3,-0.68),(156.8,0),(205.1,0),(206.1,-0.65),(207.5,-0.49),(208.8,-0.53),(210.2,0),(244.0,0),(245.4,-0.51),(246.4,0),(253.3,0),(255.0,-0.53),(257.8,-0.68),(261.9,-1.0),(265.4,-0.62),(268.8,-0.56),(272.3,-0.78),(275.7,-0.79),(277.4,0),(382.6,0),(386.1,-0.40),(391.2,-1.06),(394.7,-0.94),(398.2,-0.65),(403.3,0),(411.2,0),(413.0,-0.81),(415.4,-0.78),(417.1,-0.81),(419.5,-0.49),(421.6,0),(424.0,0),(425.7,-0.65),(427.4,-0.65),(429.2,0),(432.6,0),(434.3,-0.65),(437.1,-0.72),(439.5,-0.65),(441.2,0),(443.0,0),(444.0,-0.46),(445.4,0),(489.1,0),(489.8,-1.22),(506.2,0),(509.6,-1.22),(526.7,0),(528.5,-0.59),(530.2,-0.65),(531.9,-0.46),(533.6,-0.62),(535.3,0),(586.7,0),(587.7,-0.51),(589.1,0),(600.4,0),(601.4,-0.51),(602.8,0),(603.8,-0.51),(605.5,0),(607.2,-0.46),(608.9,0),(629.5,0),(632.9,-0.53),(637.0,-0.49),(639.8,-0.72),(650.0,0),(656.9,0),(660.3,-1.03),(663.7,-1.09),(667.2,-1.41),(670.6,-1.73),(672.3,-1.47),(675.7,-1.03),(683.6,0),(689.4,0),(690.4,-0.51),(691.8,0),(724.7,0),(726.1,-0.46),(728.8,-0.72),(732.2,0),(745.9,0),(749.3,-0.59),(752.8,-0.84),(756.2,-1.22),(757.9,-1.41),(758.5,-1.75),(758.9,0),(804.8,0),(805.8,-0.72),(809.3,-0.62),(810.3,0),(879.5,0),(884.6,-0.34),(890.4,-0.72),(892.5,-0.53),(893.9,0),(894.9,-0.53),(898.3,-0.94),(900.0,-0.53),(901.7,0),(902.4,-0.56),(903.5,0),(920.6,0),(925.7,-0.46),(929.1,-0.78),(932.6,0),(951,0)]

# Significance markers: (map position, arrow-tip MAR, colour key)
A_ARROWS_2G = [(29.5,1.97,"green"),(52.3,1.97,"red"),(59.9,1.97,"red"),(95.4,1.97,"red"),
               (95.4,1.64,"green"),(198.0,1.97,"red"),(411.2,1.97,"red"),(431.9,1.97,"red"),
               (558.6,1.97,"red"),(812.7,1.97,"red"),(890.4,1.97,"red"),(890.4,1.64,"green")]
A_ARROWS_DROUGHT = [(17.8,1.61,"gray"),(42.3,1.61,"gray"),(48.1,1.61,"gray"),(57.1,1.61,"black"),
                    (42.3,1.27,"black"),(95.7,1.61,"gray"),(95.7,1.27,"black"),(467.8,1.61,"gray"),
                    (509.6,1.61,"black"),(553.5,1.61,"gray"),(669.5,1.61,"black"),(890.4,1.61,"black")]
A_TRIANGLES = [(302.6,1.79),(328.0,1.79),(466.8,1.79),(822.3,1.79)]
B_ARROWS_DROUGHT = [(5.7,-1.26,"black"),(77.4,-1.26,"gray"),(187.8,-1.26,"black"),(311.9,-1.26,"black"),
                    (380.2,-1.26,"black"),(393.7,-1.26,"gray"),(486.7,-1.26,"black"),(597.0,-1.26,"gray"),
                    (739.1,-1.26,"black"),(744.2,-1.26,"gray"),(757.9,-1.26,"gray"),(829.1,-1.26,"black"),
                    (845.2,-1.26,"black"),(870.9,-1.26,"gray")]
B_ARROWS_7G = [(845.2,-0.23,"gray")]
B_ARROWS_2G = [(845.2,-0.12,"green"),(170.6,-2.06,"green"),(252.6,-2.06,"red"),(311.9,-2.06,"red"),
               (379.2,-2.06,"red"),(393.0,-2.06,"green"),(485.6,-2.06,"red"),(526.7,-2.06,"green"),
               (598.7,-2.06,"red"),(598.7,-1.72,"green"),(707.6,-2.06,"red"),(739.1,-2.06,"red"),
               (739.1,-1.72,"green"),(828.1,-2.06,"green"),(844.5,-2.06,"red"),(870.9,-2.06,"red")]
B_TRIANGLES = [(759.0,-1.66)]

# ---------------------------------------------------------------- styling
W, H = 1037, 1431
ML, MR, MT, MB = 76, 10, 21, 0
PW, PH = W - ML - MR, H - MT - MB

MAGENTA, RED, GREEN, GRAY = "#CC00FF", "#FF0000", "#00B800", "#999999"
BLACK, BLUE, NAVY, DRED = "#000000", "#0A3CFF", "#0A1A9A", "#E00000"
COLORS = {"red": RED, "green": GREEN, "gray": GRAY, "black": BLACK}
FONT = "Liberation Sans, Arial, Helvetica, sans-serif"


def xp(p):
    return (p - ML) / PW


def yp(p):
    return (H - MB - p) / PH


# axis name, x axis, top px, bottom px, range, grid value, tick values/text
AXES = [
    ("y",   "x",  21.0, 128.3, [0, 2.08], 1.0, [0, 1], ["0.0", "1.0"]),
    ("y2",  "x", 128.3, 249.3, [0, 2.36], 1.0, [0, 1], ["0.0", "1.0"]),
    ("y3",  "x", 249.3, 322.7, [0, 1.42], 1.0, [0, 1], ["0.0", "1.0"]),
    ("y4",  "x", 322.7, 427.7, [0, 1.99], 1.0, [0, 1], ["0.0", "1.0"]),
    ("y5",  "x", 427.7, 502.7, [0, 1.42], 1.0, [0, 1], ["0.0", "1.0"]),
    ("y6",  "x", 502.7, 576.7, [0, 0.725], 0.5, [0, 0.5], ["0.0", "0.5"]),
    ("y7",  "x", 576.7, 656.7, [0, -1.68], -1.0, [0, -1], ["0.0", "-1.0"]),
    ("y8",  "x2", 778.7, 864.7, [1.62, 0], 1.0, [0, 1], ["0.0", "1.0"]),
    ("y9",  "x2", 864.7, 950.7, [-0.811, 0], -0.5, [0, -0.5], ["0.0", "-0.5"]),
    ("y10", "x2", 950.7, 1040.7, [-1.731, 0], -1.0, [0, -1], ["0.0", "-1.0"]),
    ("y11", "x2", 1040.7, 1125.0, [-1.62, 0], -1.0, [0, -1], ["0.0", "-1.0"]),
    ("y12", "x2", 1125.0, 1205.7, [-1.543, 0], -1.0, [0, -1], ["0.0", "-1.0"]),
    ("y13", "x2", 1205.7, 1335.7, [-2.43, 0], -1.0, [0, -1], ["0.0", "-1.0"]),
    ("y14", "x2", 1335.7, 1431.0, [-1.81, 0], -1.0, [0, -1], ["0.0", "-1.0"]),
]

SERIES = [
    (A_DROUGHT_CONTROL, "x", "y", MAGENTA, "solid"),
    (A_YIELD_2G, "x", "y2", RED, "solid"),
    (A_YIELD_7G, "x", "y3", GREEN, "solid"),
    (A_DROUGHT_YIELD, "x", "y4", GRAY, "solid"),
    (A_CONTROL_YIELD, "x", "y5", BLACK, "solid"),
    (A_COMPOSITE, "x", "y6", BLUE, "solid"),
    (A_ELWLA, "x", "y7", DRED, "dot"),
    (A_ELWLW, "x", "y7", NAVY, "dot"),
    (B_ELWLA, "x2", "y8", DRED, "dot"),
    (B_ELWLW, "x2", "y8", NAVY, "dot"),
    (B_COMPOSITE, "x2", "y9", BLUE, "solid"),
    (B_CONTROL_YIELD, "x2", "y10", BLACK, "solid"),
    (B_DROUGHT_YIELD, "x2", "y11", GRAY, "solid"),
    (B_YIELD_7G, "x2", "y12", GREEN, "solid"),
    (B_YIELD_2G, "x2", "y13", RED, "solid"),
    (B_DROUGHT_CONTROL, "x2", "y14", MAGENTA, "solid"),
]

fig = go.Figure()
for data, xa, ya, col, dash in SERIES:
    fig.add_trace(go.Scatter(x=[p for p, _ in data], y=[v for _, v in data],
                             xaxis=xa, yaxis=ya, mode="lines", hoverinfo="skip",
                             showlegend=False,
                             line=dict(color=col, width=2.6, dash=dash)))

fig.add_trace(go.Scatter(x=[p for p, _ in A_TRIANGLES], y=[v for _, v in A_TRIANGLES],
                         xaxis="x", yaxis="y", mode="markers", showlegend=False,
                         hoverinfo="skip", cliponaxis=False,
                         marker=dict(symbol="triangle-down", size=13, color=MAGENTA)))
fig.add_trace(go.Scatter(x=[p for p, _ in B_TRIANGLES], y=[v for _, v in B_TRIANGLES],
                         xaxis="x2", yaxis="y14", mode="markers", showlegend=False,
                         hoverinfo="skip", cliponaxis=False,
                         marker=dict(symbol="triangle-up", size=13, color=MAGENTA)))

layout = dict(width=W, height=H,
              margin=dict(l=ML, r=MR, t=MT, b=MB, pad=0, autoexpand=False),
              paper_bgcolor="white", plot_bgcolor="rgba(0,0,0,0)",
              font=dict(family=FONT, color="#222222"), showlegend=False)
total = sum(CHROM_LENGTH)
for xa, anchor in (("xaxis", "y7"), ("xaxis2", "y14")):
    layout[xa] = dict(domain=[0, 1], range=[0, total], anchor=anchor, visible=False,
                      fixedrange=True, automargin=False)

shapes, annotations = [], []
for name, xa, top, bot, rng, grid, tv, tt in AXES:
    key = "yaxis" if name == "y" else "yaxis" + name[1:]
    layout[key] = dict(domain=[yp(bot), yp(top)], range=rng, anchor=xa,
                       tickvals=tv, ticktext=tt, showgrid=False, zeroline=False,
                       showline=False, ticks="", fixedrange=True, automargin=False,
                       ticklabelstandoff=4,
                       tickfont=dict(size=15, family=FONT, color="#222222"))
    shapes.append(dict(type="line", xref="paper", yref=name, x0=0, x1=1, y0=grid, y1=grid,
                       line=dict(color="#777777", width=1, dash="1px,2px"), layer="below"))

# chromosome boundaries and labels
bounds = [0]
for L in CHROM_LENGTH:
    bounds.append(bounds[-1] + L)
for panel_x, ytop, ybot, ylab in (("x", 21.0, 682.7, 670.0), ("x2", 754.0, 1431.0, 766.5)):
    for i, b in enumerate(bounds):
        thick = (i % 3 == 0)
        shapes.append(dict(type="line", xref=panel_x, yref="paper", x0=b, x1=b,
                           y0=yp(ybot), y1=yp(ytop), layer="below",
                           line=dict(color="#000000" if thick else "#3a3a3a",
                                     width=2.4 if thick else 1.5)))
    for i, c in enumerate(CHROMOSOMES):
        annotations.append(dict(x=(bounds[i] + bounds[i + 1]) / 2, y=yp(ylab), xref=panel_x,
                                yref="paper", text=c, showarrow=False,
                                xanchor="center", yanchor="middle",
                                font=dict(size=15.5, family=FONT, color="#111111")))

# horizontal borders
for p in (21.0, 128.3, 249.3, 322.7, 427.7, 502.7, 576.7, 656.7, 682.7,
          754.0, 778.7, 864.7, 950.7, 1040.7, 1125.0, 1205.7, 1335.7):
    shapes.append(dict(type="line", xref="paper", yref="paper", x0=0, x1=1,
                       y0=yp(p), y1=yp(p), layer="below",
                       line=dict(color="#000000", width=2.2)))

# legends inside panels: (x start px, x end px, y px, colour, dash, text x px, text)
LEGENDS = [
    (576, 599, 44, MAGENTA, "solid", 607, "Drought/control yield/plant"),
    (335, 358, 178, RED, "solid", 365, "Yield/plant at 2g/plant"),
    (335, 358, 265, GREEN, "solid", 365, "Yield/plant at 7g/plant"),
    (335, 358, 363, GRAY, "solid", 365, "Drought yield/plant"),
    (335, 358, 443, BLACK, "solid", 365, "Control yield/plant"),
    (335, 358, 517, BLUE, "solid", 365, "Composite yield/plant"),
    (440, 462, 598, NAVY, "dot", 470, "ELWLW 0-3h inverted"),
    (622, 644, 598, DRED, "dot", 651, "ELWLA 0-3h inverted"),
    (79, 101, 842, NAVY, "dot", 112, "ELWLW 0-3h inverted"),
    (257, 279, 842, DRED, "dot", 290, "ELWLA 0-3h inverted"),
    (80, 103, 931, BLUE, "solid", 115, "Composite yield/plant"),
    (80, 103, 1018, BLACK, "solid", 115, "Control yield/plant"),
    (260, 283, 1083, GRAY, "solid", 293, "Droughted yield/plant"),
    (80, 103, 1189, GREEN, "solid", 115, "Yield/plant at 7g/plant"),
    (82, 105, 1285, RED, "solid", 116, "Yield/plant at 2g/plant"),
    (82, 105, 1417, MAGENTA, "solid", 116, "Drought/control yield/plant"),
]
for x0, x1, y, col, dash, tx, txt in LEGENDS:
    shapes.append(dict(type="line", xref="paper", yref="paper", x0=xp(x0), x1=xp(x1),
                       y0=yp(y), y1=yp(y), layer="above",
                       line=dict(color=col, width=4 if dash == "solid" else 3.5, dash=dash)))
    annotations.append(dict(x=xp(tx), y=yp(y), xref="paper", yref="paper", text=txt,
                            showarrow=False, xanchor="left", yanchor="middle",
                            font=dict(size=14, family=FONT, color="#111111")))

# significance arrows
for arrows, xa, ya, down in ((A_ARROWS_2G, "x", "y2", True), (A_ARROWS_DROUGHT, "x", "y4", True),
                             (B_ARROWS_DROUGHT, "x2", "y11", False), (B_ARROWS_7G, "x2", "y12", False),
                             (B_ARROWS_2G, "x2", "y13", False)):
    for pos, tip, ck in arrows:
        annotations.append(dict(x=pos, y=tip, xref=xa, yref=ya, text="", showarrow=True,
                                ax=0, ay=-15 if down else 15, arrowhead=1, arrowsize=0.45,
                                arrowwidth=5, arrowcolor=COLORS[ck], standoff=0))

# titles
annotations += [
    dict(x=xp(35), y=yp(18), xref="paper", yref="paper", text="<b>A</b>", showarrow=False,
         xanchor="center", yanchor="middle",
         font=dict(size=19, family=FONT, color="#000000")),
    dict(x=xp(33), y=yp(743), xref="paper", yref="paper", text="<b>B</b>", showarrow=False,
         xanchor="center", yanchor="middle",
         font=dict(size=19, family=FONT, color="#000000")),
    dict(x=xp(552), y=yp(717), xref="paper", yref="paper", text="Chromosome", showarrow=False,
         xanchor="center", yanchor="middle",
         font=dict(size=20, family=FONT, color="#111111")),
    dict(x=xp(25), y=yp(355), xref="paper", yref="paper", textangle=-90,
         text="Marker additive-effect ratio (MAR)", showarrow=False,
         xanchor="center", yanchor="middle",
         font=dict(size=21, family=FONT, color="#111111")),
    dict(x=xp(25), y=yp(1080), xref="paper", yref="paper", textangle=-90,
         text="Marker additive-effect ratio (MAR)", showarrow=False,
         xanchor="center", yanchor="middle",
         font=dict(size=21, family=FONT, color="#111111")),
]

layout["shapes"] = shapes
layout["annotations"] = annotations
fig.update_layout(**layout)
fig.write_html("out.html", config={"displayModeBar": False, "staticPlot": True},
               post_script="document.body.style.margin='0px';"
                           "document.body.style.overflow='hidden';")
